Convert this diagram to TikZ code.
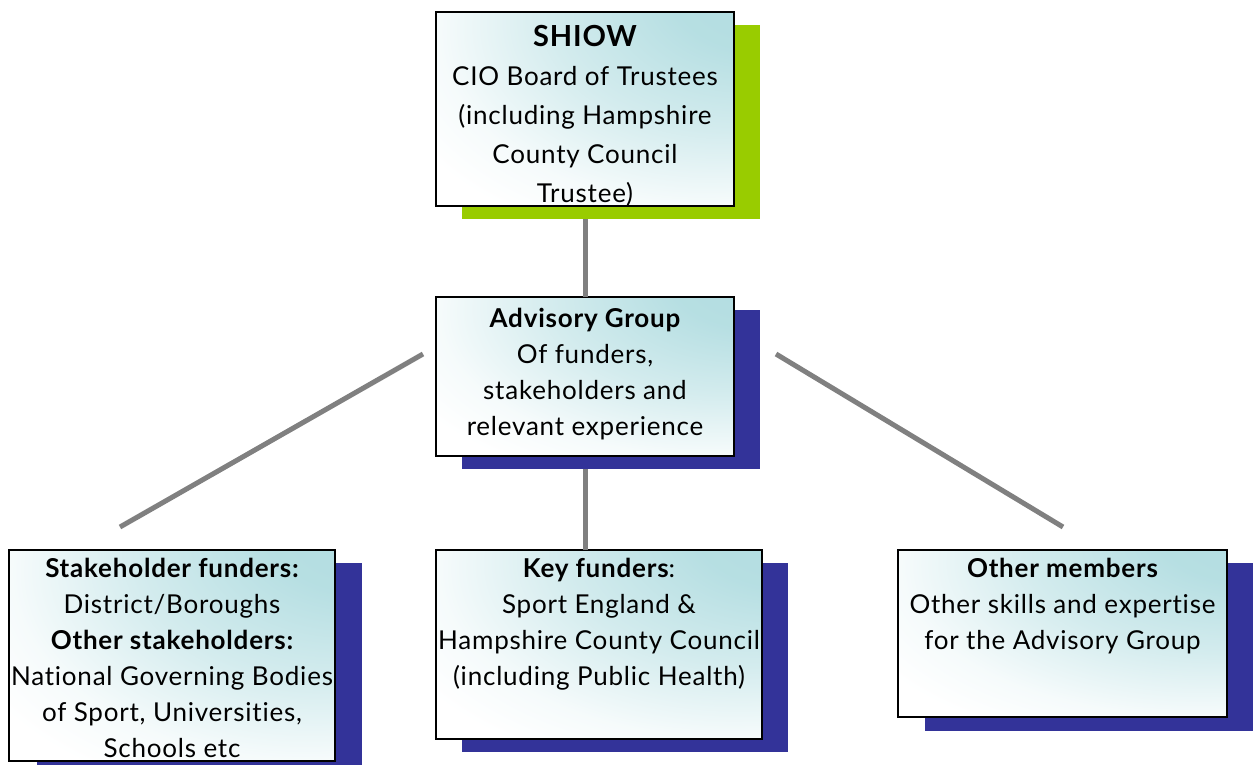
\documentclass[tikz,border=0pt]{standalone}
\usepackage{fontspec}
\setmainfont[LetterSpace=3,Ligatures=NoCommon]{Lato}
\definecolor{boxteal}{HTML}{B0DCE0}
\definecolor{shgreen}{HTML}{99CC00}
\definecolor{shnavy}{HTML}{333399}
\definecolor{linegray}{HTML}{808080}
\pgfdeclareradialshading{cardshade}{\pgfpoint{35bp}{35bp}}{%
  color(0bp)=(boxteal); color(15bp)=(boxteal!92); color(30bp)=(boxteal!55); color(44bp)=(boxteal!12); color(52bp)=(white); color(100bp)=(white)}
\begin{document}
\begin{tikzpicture}[x=1pt,y=-1pt,
  shadowbox/.style={fill=#1, draw=none, inner sep=0pt, outer sep=0pt},
  card/.style={draw=black, line width=1.5pt, inner sep=0pt, outer sep=0pt,
    shade, shading=cardshade},
  conn/.style={draw=linegray, line width=5pt},
  txt/.style={inner sep=0pt, align=center, anchor=base, font=\fontsize{26}{36}\selectfont}]
\useasboundingbox (0,0) rectangle (1258,765);

\coordinate (l1) at (423,354);
\coordinate (l2) at (120,527);
\coordinate (r1) at (776,354);
\coordinate (r2) at (1063,527);

\node[shadowbox=shgreen, minimum width=298pt, minimum height=194pt] (s1) at (611,122) {};
\node[shadowbox=shnavy, minimum width=298pt, minimum height=159pt] (s2) at (611,389.5) {};
\node[shadowbox=shnavy, minimum width=325pt, minimum height=211pt] (s3) at (199.5,668.5) {};
\node[shadowbox=shnavy, minimum width=326pt, minimum height=189pt] (s4) at (625,657.5) {};
\node[shadowbox=shnavy, minimum width=328pt, minimum height=168pt] (s5) at (1089,647) {};

\node[card, minimum width=298pt, minimum height=194pt] (b1) at (585,109) {};
\node[card, minimum width=298pt, minimum height=159pt] (b2) at (585,376.5) {};
\node[card, minimum width=326pt, minimum height=211pt] (b3) at (172,655.5) {};
\node[card, minimum width=326pt, minimum height=189pt] (b4) at (599,644.5) {};
\node[card, minimum width=329pt, minimum height=167pt] (b5) at (1062.5,633.5) {};

\draw[conn] (s1.south -| b1.center) -- (b2.north);
\draw[conn] (s2.south -| b2.center) -- (b2.center |- b4.north);
\draw[conn] (l1) -- (l2);
\draw[conn] (r1) -- (r2);

% base anchor = baseline of the last line
\node[txt, font=\fontsize{26}{39}\selectfont] (t1) at (585,202)
  {{\fontsize{29}{39}\selectfont\bfseries SHIOW}\\CIO Board of Trustees\\(including Hampshire\\County Council\\Trustee)};
\node[txt] (t2) at (585,435)
  {{\bfseries Advisory Group}\\Of funders,\\stakeholders and\\relevant experience};
\node[txt] (t3) at (172,757)
  {{\bfseries Stakeholder funders:}\\District/Boroughs\\{\bfseries Other stakeholders:}\\National Governing Bodies\\of Sport, Universities,\\Schools etc};
\node[txt] (t4) at (599,685)
  {{\bfseries Key funders}:\\Sport England \&\\Hampshire County Council\\(including Public Health)};
\node[txt] (t5) at (1062.5,649)
  {{\bfseries Other members}\\Other skills and expertise\\for the Advisory Group};
\end{tikzpicture}
\end{document}
